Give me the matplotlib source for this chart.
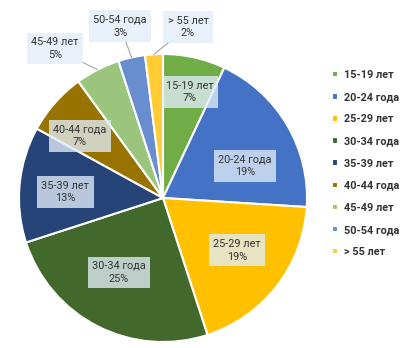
# _*_ coding: utf-8 _*_
"""
Age structure pie chart.
"""

import numpy as np
import matplotlib.pyplot as plt

# data
labels = ['15-19 лет', '20-24 года', '25-29 лет', '30-34 года', '35-39 лет',
          '40-44 года', '45-49 лет', '50-54 года', '> 55 лет']
shares = [7, 19, 19, 25, 13, 7, 5, 3, 2]

# styles
colors = ['#70AD47', '#4472C4', '#FFC000', '#43682B', '#264478',
          '#997300', '#9BC57C', '#698ED0', '#FFCD33']
# label placement: radius factor and angle shift (deg) from wedge middle
label_rf = [0.76, 0.61, 0.63, 0.60, 0.68, 0.72, 1.28, 1.23, 1.20]
label_dang = [-1.7, -9.3, 2.7, -3.7, 1.9, 4.6, 8.9, 1.4, -11.9]

plt.rcParams['font.family'] = ['Roboto', 'DejaVu Sans']

W, H = 418, 348
fig = plt.figure(figsize=(W / 100, H / 100), dpi=100)
cx, cy, R = 163, 198, 144
ax = fig.add_axes(((cx - R) / W, (H - cy - R) / H, 2 * R / W, 2 * R / H))

wedges, _ = ax.pie(shares, colors=colors, startangle=90, counterclock=False,
                   radius=1.0,
                   wedgeprops=dict(edgecolor='white', linewidth=1.5))
ax.set_xlim(-1, 1)
ax.set_ylim(-1, 1)
ax.set_aspect('equal')
ax.axis('off')

# data labels
for w, lab, s, rf, da in zip(wedges, labels, shares, label_rf, label_dang):
    mid = 0.5 * (w.theta1 + w.theta2)
    ang = np.deg2rad(mid + da)
    tx, ty = rf * np.cos(ang), rf * np.sin(ang)
    box = dict(boxstyle='square,pad=0.4', facecolor='#E2EDF8',
               edgecolor='none', alpha=0.78)
    txt = '%s\n%d%%' % (lab, s)
    if rf > 1:
        ex, ey = np.cos(np.deg2rad(mid)), np.sin(np.deg2rad(mid))
        ax.annotate(txt, xy=(ex, ey), xytext=(tx, ty), ha='center',
                    va='center', fontsize=7.8, color='#333333',
                    linespacing=1.35, bbox=box, annotation_clip=False,
                    arrowprops=dict(arrowstyle='-', color='#A6A6A6', lw=0.8,
                                    shrinkA=0, shrinkB=0))
    else:
        ax.text(tx, ty, txt, ha='center', va='center', fontsize=7.8,
                color='#333333', linespacing=1.35, bbox=box)

# legend
leg = ax.legend(wedges, labels, loc='upper left',
                bbox_to_anchor=(332 / W, 1 - 70 / H),
                bbox_transform=fig.transFigure, frameon=False,
                prop=dict(weight='bold', size=7.8), handlelength=0.55,
                handleheight=0.55, handletextpad=0.6, labelspacing=1.12,
                borderpad=0, borderaxespad=0)
for t in leg.get_texts():
    t.set_color('#333333')

fig.savefig('out.png', dpi=100)
